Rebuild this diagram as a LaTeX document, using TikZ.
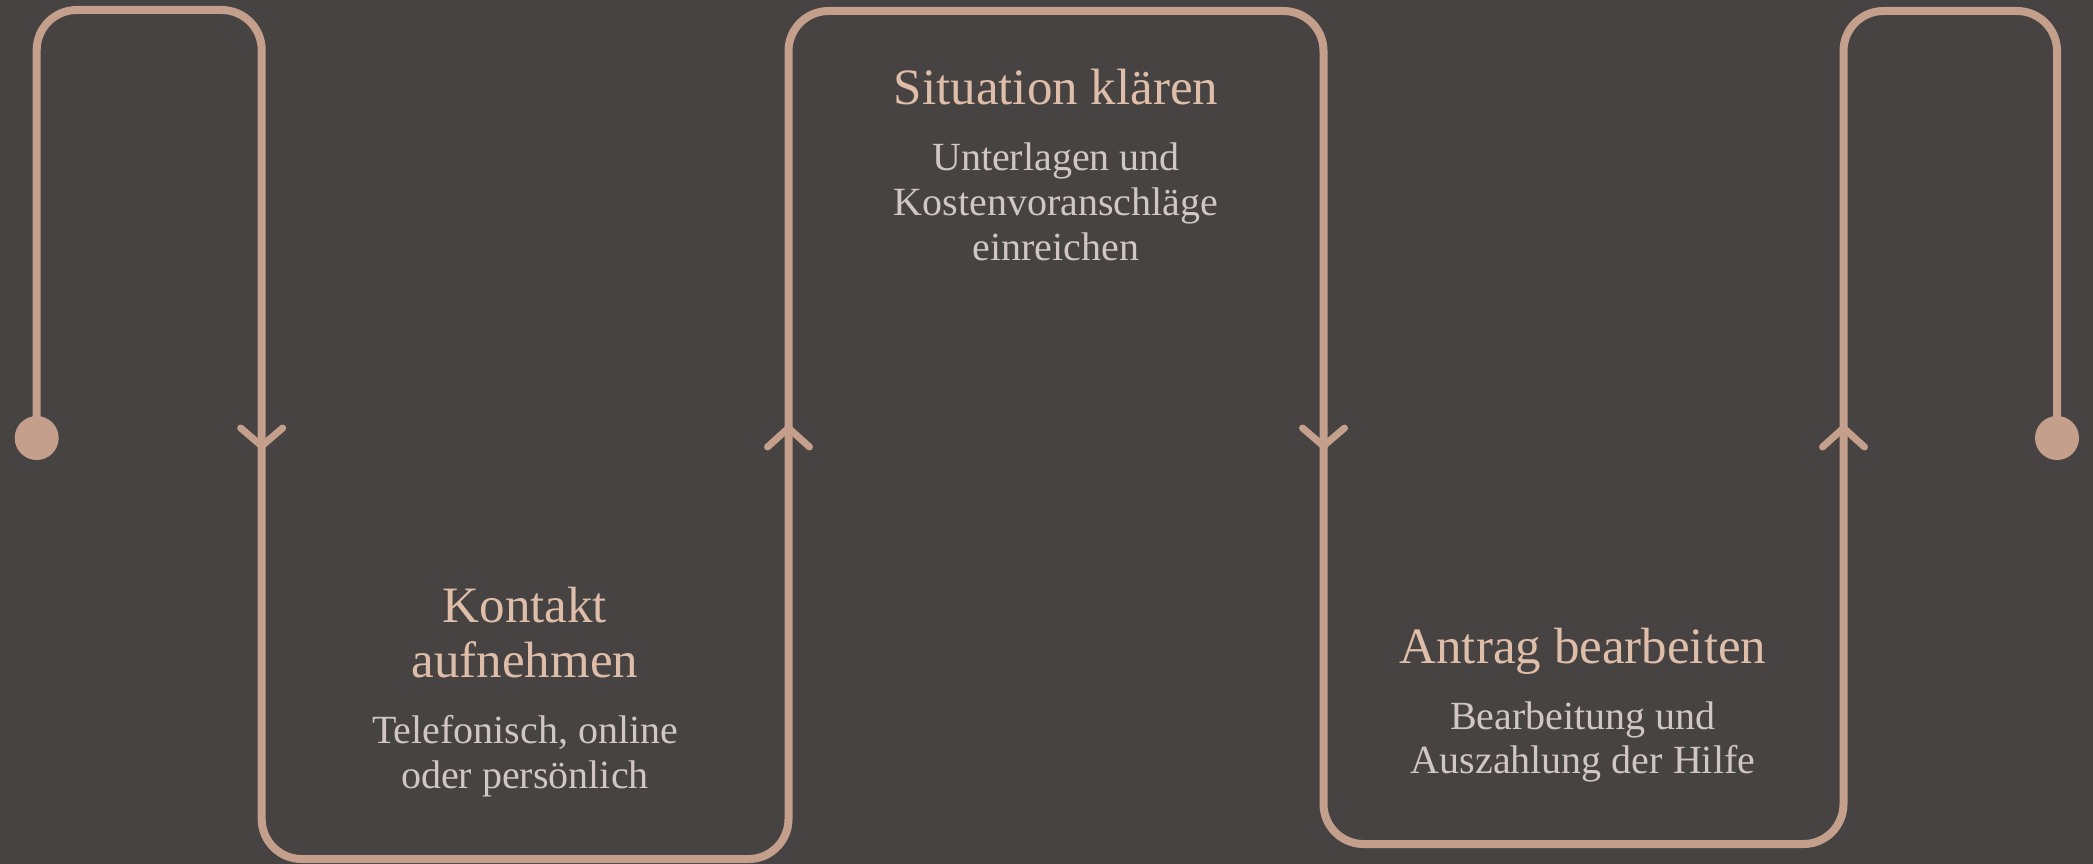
\documentclass[tikz,border=0pt]{standalone}
\usepackage{fontspec}
\setmainfont{Liberation Serif}
\definecolor{bgc}{HTML}{474342}
\definecolor{linec}{HTML}{C4A08C}
\definecolor{titlec}{HTML}{DFBEA9}
\definecolor{bodyc}{HTML}{CFC6C5}
\tikzset{
  flow/.style={draw=linec, line width=8pt, rounded corners=40pt},
  chev/.style={draw=linec, line width=7pt, line cap=round, line join=round},
  dotnode/.style={circle, fill=linec, minimum size=44pt, inner sep=0pt},
  ttl/.style={text=titlec, font=\fontsize{51}{56}\selectfont, inner sep=0pt, anchor=base},
  bdy/.style={text=bodyc, font=\fontsize{40}{44}\selectfont, inner sep=0pt, anchor=base},
}
\begin{document}
\begin{tikzpicture}[x=1pt,y=-1pt]
\fill[bgc] (0,0) rectangle (2093,864);
\useasboundingbox (0,0) rectangle (2093,864);
% path corners
\coordinate (p0) at (36.7,438);
\coordinate (c1) at (36.7,10);
\coordinate (c2) at (261.7,10);
\coordinate (c3) at (261.7,859);
\coordinate (c4) at (788.5,859);
\coordinate (c5) at (788.5,11);
\coordinate (c6) at (1323.5,11);
\coordinate (c7) at (1323.5,844);
\coordinate (c8) at (1843.5,844);
\coordinate (c9) at (1843.5,11);
\coordinate (c10) at (2057,11);
\coordinate (p1) at (2057,438);
\draw[flow] (p0) -- (c1) -- (c2) -- (c3) -- (c4) -- (c5) -- (c6) -- (c7) -- (c8) -- (c9) -- (c10) -- (p1);
\node[dotnode] (start) at (p0) {};
\node[dotnode] (end) at (p1) {};
% chevrons
\coordinate (a1) at (261.7,438);
\coordinate (a2) at (788.5,438);
\coordinate (a3) at (1323.5,438);
\coordinate (a4) at (1843.5,438);
\draw[chev] ([shift={(-21,-10)}]a1) -- ([shift={(0,8)}]a1) -- ([shift={(21,-10)}]a1);
\draw[chev] ([shift={(-21,9)}]a2) -- ([shift={(0,-10)}]a2) -- ([shift={(21,9)}]a2);
\draw[chev] ([shift={(-21,-10)}]a3) -- ([shift={(0,8)}]a3) -- ([shift={(21,-10)}]a3);
\draw[chev] ([shift={(-21,9)}]a4) -- ([shift={(0,-10)}]a4) -- ([shift={(21,9)}]a4);
% texts
\node[ttl] (k1) at (525,622) {Kontakt};
\node[ttl] (k2) at (525,677) {aufnehmen};
\node[bdy] (k3) at (525,743) {Telefonisch, online};
\node[bdy] (k4) at (525,788) {oder persönlich};
\node[ttl] (s1) at (1056,105) {Situation klären};
\node[bdy] (s2) at (1056,170) {Unterlagen und};
\node[bdy] (s3) at (1056,215) {Kostenvoranschläge};
\node[bdy] (s4) at (1056,260) {einreichen};
\node[ttl] (t1) at (1583,663) {Antrag bearbeiten};
\node[bdy] (t2) at (1583,729) {Bearbeitung und};
\node[bdy] (t3) at (1583,773) {Auszahlung der Hilfe};
\end{tikzpicture}
\end{document}
